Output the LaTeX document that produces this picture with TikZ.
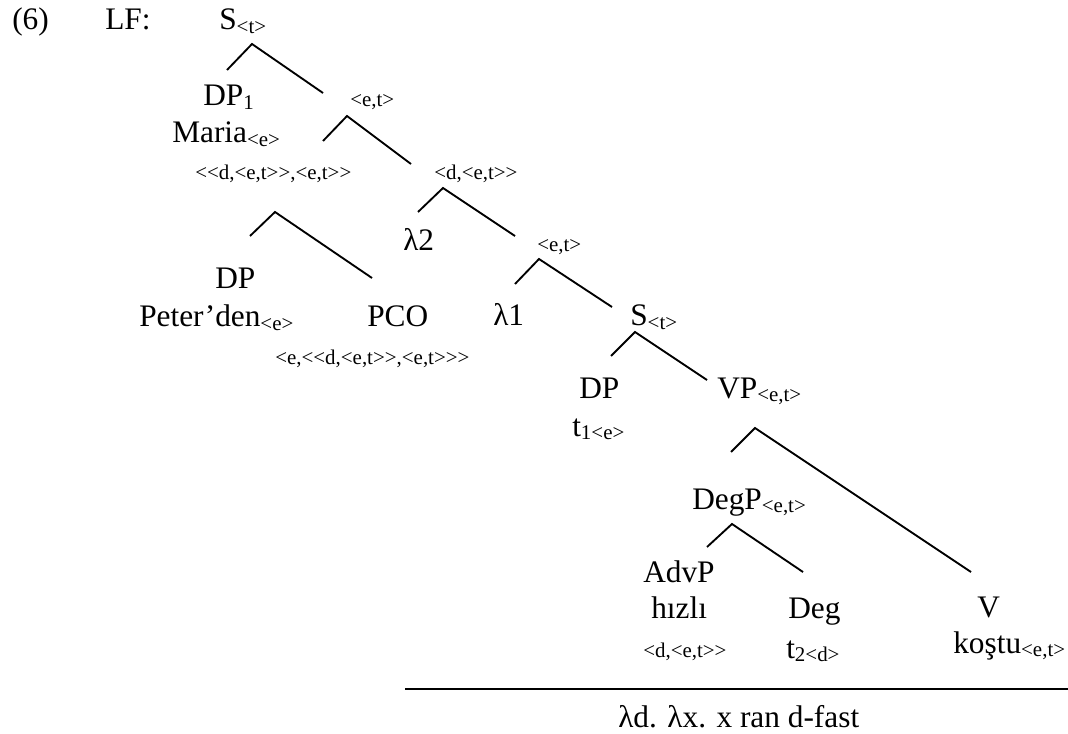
\documentclass[tikz,border=0pt]{standalone}
\usepackage{fontspec}
\setmainfont{Liberation Serif}[Ligatures=TeXOff]
\newcommand\mainsz{\fontsize{23.5}{28}\selectfont}
\newcommand\smsz{\fontsize{15.7}{18}\selectfont}
\newcommand\tsub[1]{\raisebox{-2.5pt}{\smsz #1}}
\begin{document}
\begin{tikzpicture}[x=0.75pt,y=-0.75pt,
  lab/.style={inner sep=0pt,anchor=base west,font=\mainsz},
  typ/.style={inner sep=0pt,anchor=base west,font=\smsz},
  branch/.style={line width=1.4pt}]
\useasboundingbox (0,0) rectangle (1068,734);
% texts
\node[lab] (ex) at (12,30) {(6)};
\node[lab] (lf) at (105,30) {LF:};
\node[lab] (s0) at (219,30) {S\tsub{<t>}};
\node[lab] (dp1) at (203,106) {DP\tsub{1}};
\node[lab] (maria) at (172,143) {Maria\tsub{<e>}};
\node[typ] (et1) at (350,107) {<e,t>};
\node[typ] (tpco) at (195,180) {<<d,<e,t>>,<e,t>>};
\node[typ] (det1) at (434,180) {<d,<e,t>>};
\node[lab] (lam2) at (403,251) {λ2};
\node[typ] (et2) at (537,252) {<e,t>};
\node[lab] (dp2) at (215,289) {DP};
\node[lab] (peter) at (139,327) {Peter’den\tsub{<e>}};
\node[lab] (pco) at (367,327) {PCO};
\node[lab] (lam1) at (493,326) {λ1};
\node[lab] (s1) at (630,326) {S\tsub{<t>}};
\node[typ] (tpco2) at (275,365) {<e,<<d,<e,t>>,<e,t>>>};
\node[lab] (dp3) at (579,398) {DP};
\node[lab] (t1) at (572,436) {t\tsub{1<e>}};
\node[lab] (vp) at (717,398) {VP\tsub{<e,t>}};
\node[lab] (degp) at (692,509) {DegP\tsub{<e,t>}};
\node[lab] (advp) at (643,582) {AdvP};
\node[lab] (hizli) at (651,618) {hızlı};
\node[typ] (det2) at (643,657) {<d,<e,t>>};
\node[lab] (deg) at (788,618) {Deg};
\node[lab] (t2) at (786,658) {t\tsub{2<d>}};
\node[lab] (v) at (977,617) {V};
\node[lab] (kostu) at (953,653) {koştu\tsub{<e,t>}};
\node[lab] (res) at (618,727) {λd. λx. x ran d-fast};
% branch points
\coordinate (a0) at (252,44); \coordinate (a0l) at (227,70); \coordinate (a0r) at (323,93);
\coordinate (a1) at (347,116); \coordinate (a1l) at (323,141); \coordinate (a1r) at (411,164);
\coordinate (a2) at (443,188); \coordinate (a2l) at (418,212); \coordinate (a2r) at (515,236);
\coordinate (a3) at (275,212); \coordinate (a3l) at (250,236); \coordinate (a3r) at (372,278);
\coordinate (a4) at (539,259); \coordinate (a4l) at (515,284); \coordinate (a4r) at (612,307);
\coordinate (a5) at (635,332); \coordinate (a5l) at (611,356); \coordinate (a5r) at (707,380);
\coordinate (a6) at (755,428); \coordinate (a6l) at (731,452); \coordinate (a6r) at (971,572);
\coordinate (a7) at (732,524); \coordinate (a7l) at (707,547); \coordinate (a7r) at (803,572);
\coordinate (h1) at (405,689); \coordinate (h2) at (1068,689);
\foreach \n in {a0,a1,a2,a3,a4,a5,a6,a7}{
  \draw[branch] (\n l) -- (\n) -- (\n r);
}
\draw[branch] (h1) -- (h2);
\end{tikzpicture}
\end{document}
